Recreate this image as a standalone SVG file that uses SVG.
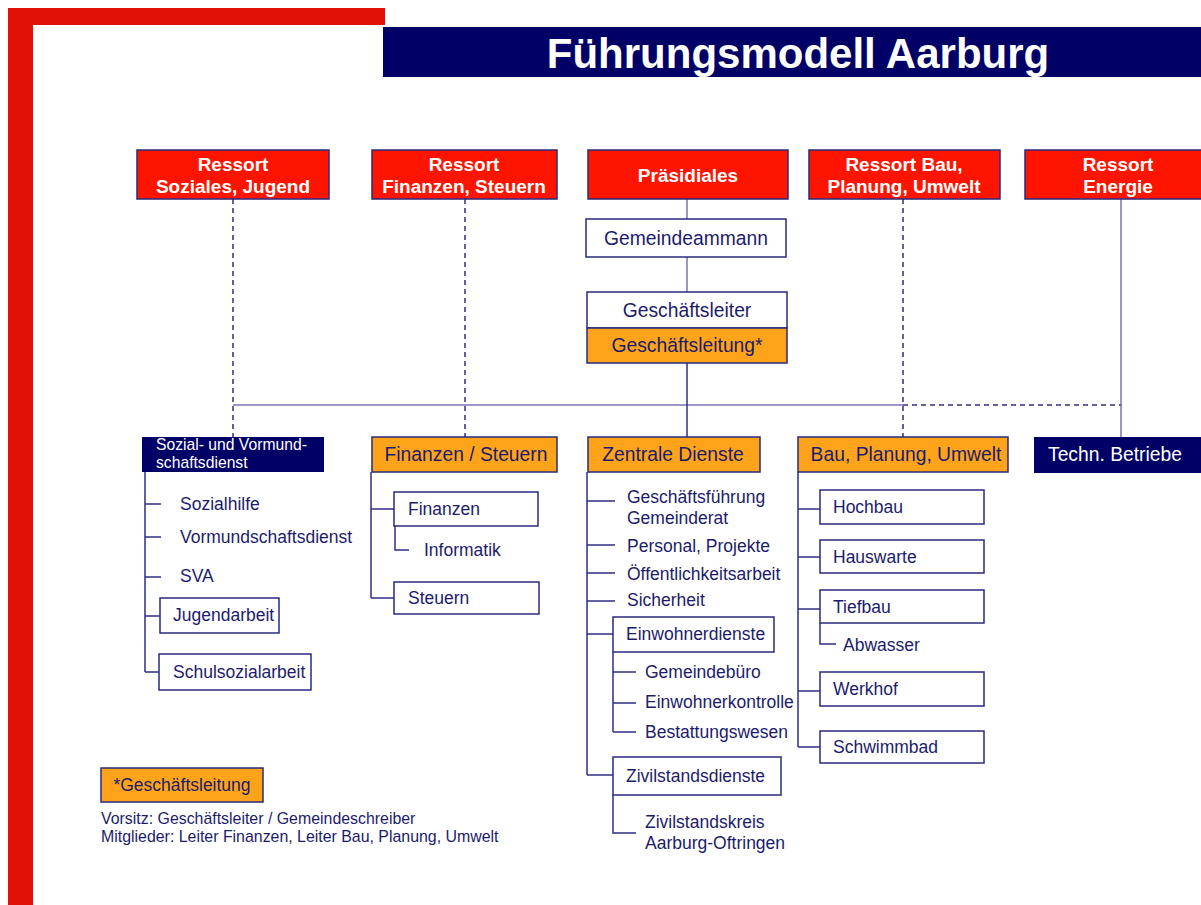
<svg xmlns="http://www.w3.org/2000/svg" width="1201" height="905" viewBox="0 0 1201 905">
<style>
.red{fill:#ff1400;stroke:#2a2a7a;stroke-width:1.5}
.wb{fill:#fff;stroke:#2a2a80;stroke-width:1.5}
.ob{fill:#ffa41a;stroke:#2a2a80;stroke-width:1.5}
.nb{fill:#000066}
text{font-family:"Liberation Sans",Arial,sans-serif}
.rt{font-size:19px;font-weight:bold;fill:#fff;text-anchor:middle}
.t1{font-size:19.3px;fill:#1c1c6a}
.t2{font-size:17.5px;fill:#1c1c6a}
.tw{fill:#fff}
.c{text-anchor:middle}
.ln{stroke:#2e2e86;stroke-width:1.5;fill:none}
.lt{stroke:#7777b0;stroke-width:1.5;fill:none}
.ds{stroke:#2e2e86;stroke-width:1.5;fill:none;stroke-dasharray:5,4}
</style>
<g id="frame">
<rect x="8" y="8" width="377" height="17" fill="#e01208"/>
<rect x="8" y="8" width="25" height="897" fill="#e01208"/>
</g>
<g id="title">
<rect x="383" y="27" width="818" height="50" fill="#000066"/>
<text x="798" y="68" font-size="42" font-weight="bold" fill="#fff" text-anchor="middle">Führungsmodell Aarburg</text>
</g>
<g id="connectors">
<path class="ds" d="M233 199V437M465 199V437M903 199V437M903 405H1122"/>
<path class="lt" d="M233 405H903M1121 199V437M687 199V219M687 257V292"/>
<path class="ln" d="M687 363V437"/>
<path class="ln" d="M145 472V672M145 504H161M145 537H161M145 577H161M145 616H160M145 672H159"/>
<path class="ln" d="M371 472V598M371 509H394M371 598H394M395 526V550H409"/>
<path class="ln" d="M587 472V775M587 501H615M587 545H615M587 573H615M587 601H615M587 634H613M587 775H613"/>
<path class="ln" d="M613 652V732M613 672H636M613 703H636M613 732H636M613 795V833H636"/>
<path class="ln" d="M798 472V747M798 509H820M798 557H820M798 609H820M798 691H820M798 747H820M820 623V644H836"/>
</g>
<g id="n-soziales"><rect class="red" x="137" y="150" width="192" height="49"/><text class="rt" x="233" y="171">Ressort</text><text class="rt" x="233" y="193">Soziales, Jugend</text></g>
<g id="n-finanzen"><rect class="red" x="372" y="150" width="185" height="49"/><text class="rt" x="464" y="171">Ressort</text><text class="rt" x="464" y="193">Finanzen, Steuern</text></g>
<g id="n-praesidiales"><rect class="red" x="588" y="150" width="200" height="49"/><text class="rt" x="688" y="182">Präsidiales</text></g>
<g id="n-bau"><rect class="red" x="809" y="150" width="191" height="49"/><text class="rt" x="904" y="171">Ressort Bau,</text><text class="rt" x="904" y="193">Planung, Umwelt</text></g>
<g id="n-energie"><rect class="red" x="1025" y="150" width="190" height="49"/><text class="rt" x="1118" y="171">Ressort</text><text class="rt" x="1118" y="193">Energie</text></g>
<g id="n-gemeindeammann"><rect class="wb" x="586" y="219" width="200" height="38"/><text class="t1 c" x="686" y="245">Gemeindeammann</text></g>
<g id="n-geschaeftsleiter"><rect class="wb" x="587" y="292" width="200" height="36"/><text class="t1 c" x="687" y="317">Geschäftsleiter</text></g>
<g id="n-geschaeftsleitung"><rect class="ob" x="587" y="328" width="200" height="35"/><text class="t1 c" x="687" y="352">Geschäftsleitung*</text></g>
<g id="n-sozialdienst"><rect class="nb" x="142" y="437" width="182" height="35"/><text class="tw" x="156" y="450" font-size="15.7">Sozial- und Vormund-</text><text class="tw" x="156" y="468" font-size="15.7">schaftsdienst</text></g>
<g id="n-finsteuern"><rect class="ob" x="372" y="437" width="185" height="35"/><text class="t1 c" x="466" y="461">Finanzen / Steuern</text></g>
<g id="n-zentrale"><rect class="ob" x="588" y="437" width="172" height="35"/><text class="t1 c" x="673" y="461">Zentrale Dienste</text></g>
<g id="n-bpu"><rect class="ob" x="798" y="437" width="210" height="35"/><text class="t1 c" x="906" y="461">Bau, Planung, Umwelt</text></g>
<g id="n-techn"><rect class="nb" x="1034" y="437" width="167" height="36"/><text class="t1 tw" x="1048" y="461">Techn. Betriebe</text></g>
<g id="n-soz-items">
<text class="t2" x="180" y="510">Sozialhilfe</text>
<text class="t2" x="180" y="543">Vormundschaftsdienst</text>
<text class="t2" x="180" y="582">SVA</text>
</g>
<g id="n-jugendarbeit"><rect class="wb" x="160" y="598" width="119" height="35"/><text class="t2" x="173" y="621">Jugendarbeit</text></g>
<g id="n-schulsozialarbeit"><rect class="wb" x="159" y="654" width="152" height="36"/><text class="t2" x="173" y="678">Schulsozialarbeit</text></g>
<g id="n-fin"><rect class="wb" x="394" y="492" width="144" height="34"/><text class="t2" x="408" y="515">Finanzen</text></g>
<g id="n-informatik"><text class="t2" x="424" y="556">Informatik</text></g>
<g id="n-steuern"><rect class="wb" x="394" y="582" width="145" height="32"/><text class="t2" x="408" y="604">Steuern</text></g>
<g id="n-zd-items">
<text class="t2" x="627" y="503">Geschäftsführung</text>
<text class="t2" x="627" y="524">Gemeinderat</text>
<text class="t2" x="627" y="552">Personal, Projekte</text>
<text class="t2" x="627" y="580">Öffentlichkeitsarbeit</text>
<text class="t2" x="627" y="606">Sicherheit</text>
</g>
<g id="n-einwohnerdienste"><rect class="wb" x="613" y="617" width="161" height="35"/><text class="t2" x="626" y="640">Einwohnerdienste</text></g>
<g id="n-ew-items">
<text class="t2" x="645" y="678">Gemeindebüro</text>
<text class="t2" x="645" y="708">Einwohnerkontrolle</text>
<text class="t2" x="645" y="738">Bestattungswesen</text>
</g>
<g id="n-zivilstandsdienste"><rect class="wb" x="613" y="757" width="168" height="38"/><text class="t2" x="626" y="782">Zivilstandsdienste</text></g>
<g id="n-zivilstandskreis"><text class="t2" x="645" y="828">Zivilstandskreis</text><text class="t2" x="645" y="849">Aarburg-Oftringen</text></g>
<g id="n-hochbau"><rect class="wb" x="820" y="490" width="164" height="34"/><text class="t2" x="833" y="513">Hochbau</text></g>
<g id="n-hauswarte"><rect class="wb" x="820" y="540" width="164" height="33"/><text class="t2" x="833" y="563">Hauswarte</text></g>
<g id="n-tiefbau"><rect class="wb" x="820" y="590" width="164" height="33"/><text class="t2" x="833" y="613">Tiefbau</text></g>
<g id="n-abwasser"><text class="t2" x="843" y="651">Abwasser</text></g>
<g id="n-werkhof"><rect class="wb" x="820" y="672" width="164" height="34"/><text class="t2" x="833" y="695">Werkhof</text></g>
<g id="n-schwimmbad"><rect class="wb" x="820" y="731" width="164" height="32"/><text class="t2" x="833" y="753">Schwimmbad</text></g>
<g id="legend">
<rect class="ob" x="101" y="768" width="162" height="34"/><text class="t2 c" x="182" y="791">*Geschäftsleitung</text>
<text x="101" y="824" font-size="15.9" fill="#1c1c6a">Vorsitz: Geschäftsleiter / Gemeindeschreiber</text>
<text x="101" y="842" font-size="15.9" fill="#1c1c6a">Mitglieder: Leiter Finanzen, Leiter Bau, Planung, Umwelt</text>
</g>
</svg>
